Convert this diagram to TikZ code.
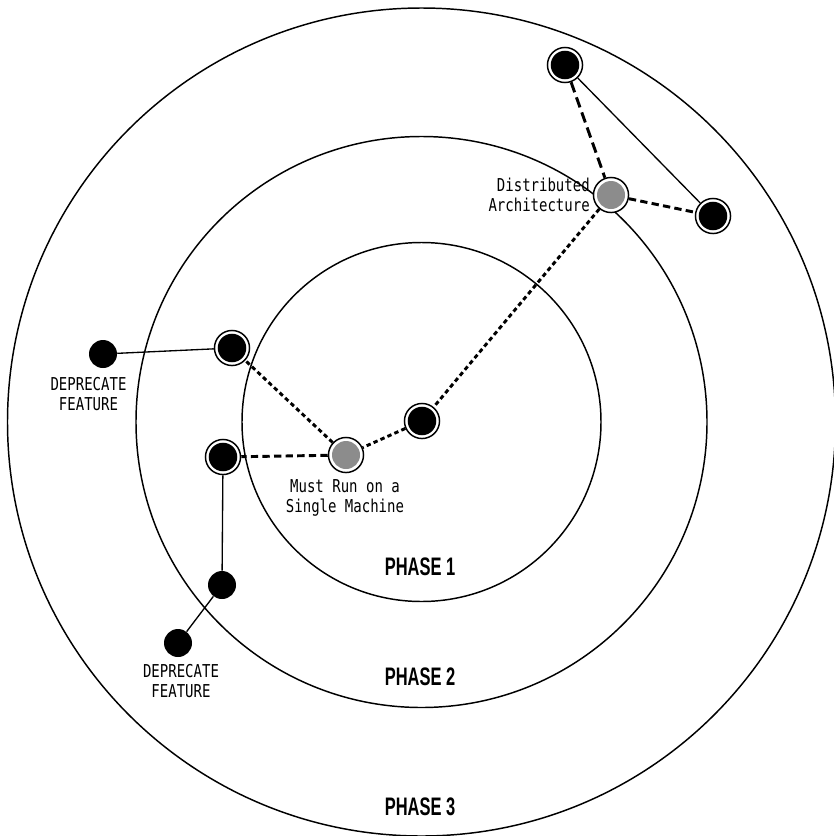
\documentclass[tikz,border=0pt]{standalone}
\usepackage{fontspec}
\newfontfamily\monof{DejaVu Sans Mono}
\newfontfamily\phasef{Liberation Sans}
\definecolor{nodegray}{RGB}{140,140,140}
\tikzset{
  ringbase/.style={circle, draw=black, line width=1.1pt, fill=white, minimum size=26.3pt, inner sep=0pt},
  ring/.style={ringbase, path picture={\fill[black] (path picture bounding box.center) circle (10.7pt);}},
  gring/.style={ringbase, path picture={\fill[nodegray] (path picture bounding box.center) circle (10.5pt);}},
  dotnode/.style={circle, fill=black, draw=none, minimum size=21pt, inner sep=0pt},
  phase/.style={circle, draw=black, line width=1.1pt},
  solidlink/.style={line width=1pt},
  longdash/.style={line width=2.2pt, dash pattern=on 8pt off 4pt},
  meddash/.style={line width=2.2pt, dash pattern=on 5.5pt off 3.2pt},
  shortdash/.style={line width=2.2pt, dash pattern=on 3.3pt off 2.4pt},
  monolabel/.style={font=\monof\fontsize{13.3}{15}\selectfont, inner sep=0pt},
  phaselabel/.style={font=\phasef\bfseries\fontsize{19}{20}\selectfont, inner sep=0pt}
}
\newcommand{\narrow}[1]{\scalebox{0.79}[1]{#1}}
\newcommand{\condensed}[1]{\scalebox{0.65}[1]{#1}}
\begin{document}
\begin{tikzpicture}[x=0.75pt, y=-0.75pt]
\useasboundingbox (0,0) rectangle (833,836);
% phase circles
\coordinate (ctr) at (421.5,422);
\draw[phase] (ctr) circle (179.5);
\draw[phase] (ctr) circle (285.5);
\draw[phase] (ctr) circle (414);
% nodes
\node[ring] (top) at (565,65) {};
\node[gring] (dist) at (611,195) {};
\node[ring] (right) at (713,216) {};
\node[ring] (center) at (422,421) {};
\node[gring] (must) at (346,455) {};
\node[ring] (lup) at (232,348) {};
\node[ring] (llow) at (223,457) {};
\node[dotnode] (depL) at (103,354) {};
\node[dotnode] (low) at (222,585) {};
\node[dotnode] (depB) at (178,643) {};
% connectors
\draw[solidlink] (top) -- (right);
\draw[longdash] (top) -- (dist);
\draw[meddash] (dist) -- (right);
\draw[shortdash] (dist) -- (center);
\draw[shortdash] (center) -- (must);
\draw[shortdash] (must) -- (lup);
\draw[meddash] (must) -- (llow);
\draw[solidlink] (lup) -- (depL);
\draw[solidlink] (llow) -- (low);
\draw[solidlink] (low) -- (depB);
% labels
\node[monolabel, anchor=east, align=right] (distlbl) at (590,195) {\narrow{Distributed}\\\narrow{Architecture}};
\node[monolabel, align=center] (mustlbl) at (345,498) {\narrow{Must Run on a}\\\narrow{Single Machine}};
\node[monolabel, align=center] (deplblL) at (88.5,394.5) {\narrow{DEPRECATE}\\\narrow{FEATURE}};
\node[monolabel, align=center] (deplblB) at (181,681.5) {\narrow{DEPRECATE}\\\narrow{FEATURE}};
\node[phaselabel] (p1) at (420,567) {\condensed{PHASE 1}};
\node[phaselabel] (p2) at (420,677) {\condensed{PHASE 2}};
\node[phaselabel] (p3) at (420,807) {\condensed{PHASE 3}};
\end{tikzpicture}
\end{document}
